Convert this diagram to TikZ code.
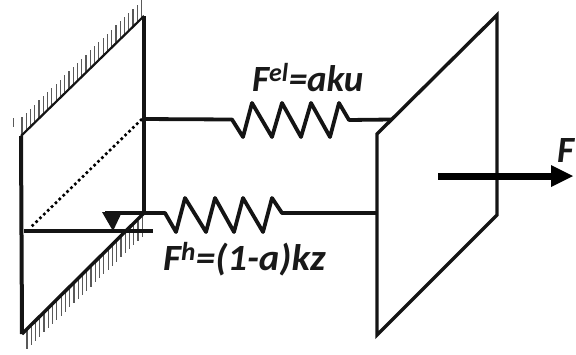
\documentclass[tikz,border=0pt]{standalone}
\usepackage{fontspec}
\setmainfont{Carlito}
\begin{document}
\begin{tikzpicture}[x=1pt,y=-1pt,line join=miter,
  plate/.style={line width=3.4pt,black!92},
  rod/.style={line width=3.8pt,black!92,line join=round},
  hatchline/.style={line width=1.2pt,black!65},
  lbl/.style={font=\bfseries\itshape\fontsize{37}{40}\selectfont,inner sep=0pt,black!90}]
\useasboundingbox (0,0) rectangle (576,354);
% named points
\coordinate (LTL) at (21,136);
\coordinate (LTR) at (144,16);
\coordinate (LBR) at (144,213);
\coordinate (LBL) at (22,334);
\coordinate (RTL) at (377,134);
\coordinate (RTR) at (497,15);
\coordinate (RBR) at (497,215);
\coordinate (RBL) at (377,335);
\coordinate (elA) at (142,119);
\coordinate (elB) at (391,119.5);
\coordinate (hA) at (105,213);
\coordinate (hB) at (377,213);
% hatching
\foreach \i in {0,...,28}{
  \pgfmathsetmacro{\xx}{22+4.27*\i}
  \pgfmathsetmacro{\yy}{135-0.975*4.27*\i}
  \draw[hatchline] (\xx,\yy) -- ++(0,-18);
}
\draw[hatchline,line width=.8pt] (13,118) -- (13,127);
\foreach \i in {0,...,27}{
  \pgfmathsetmacro{\xx}{27+4.27*\i}
  \pgfmathsetmacro{\yy}{329-0.975*4.27*\i}
  \draw[hatchline] (\xx,\yy) -- ++(0,20);
}
% left plate
\draw[line width=2.2pt,black!92] (LTL) -- (LTR);
\draw[plate] (LTR) -- (LBR);
\draw[plate,line width=4pt] (LTL) -- (LBL);
\draw[plate] (LBL) -- (LBR);
\draw[line width=2.6pt,black,dash pattern=on 2.6pt off 2.8pt] (elA) -- (30,228);
% water surface
\draw[rod,line width=4.4pt] (24,231) -- (153,231);
\fill[black!92] (102,212) -- (122,212) -- (113,231) -- cycle;
% springs
\draw[rod] (hA) -- (165,213) -- (176,232) -- (185,198) -- (206,232) -- (215,198) -- (234,232) -- (243,198) -- (263,232) -- (272,198) -- (282,213) -- (hB);
\draw[rod] (elA) -- (232,119.5) -- (243,137) -- (252,103) -- (272,137) -- (282,103) -- (301,137) -- (311,103) -- (330,137) -- (339,103) -- (349,120) -- (elB);
% right plate
\draw[plate] (RTL) -- (RTR) -- (RBR) -- (RBL) -- cycle;
% force arrow
\coordinate (fA) at (438,176);
\coordinate (fB) at (551,176);
\draw[line width=7pt,black] (fA) -- (fB);
\fill[black] (551,165) -- (573,176) -- (551,187) -- cycle;
% labels
\node[lbl,anchor=base west] (t1) at (252,91) {F\textsuperscript{el}=aku};
\node[lbl,anchor=base west,xscale=1.05] (t2) at (163,270) {F\textsuperscript{h}=(1-a)kz};
\node[lbl,anchor=base west] (t3) at (557,162) {F};
\end{tikzpicture}
\end{document}
